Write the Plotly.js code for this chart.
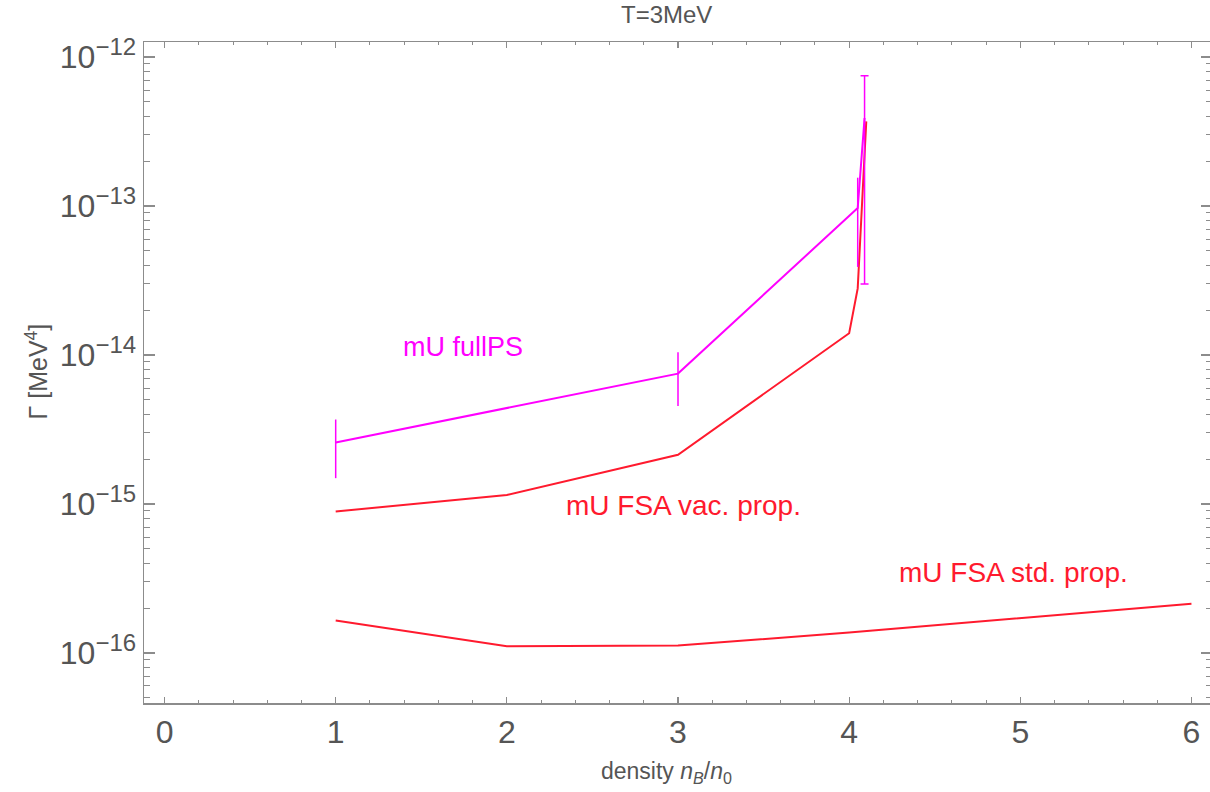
<!DOCTYPE html>
<html>
<head>
<meta charset="utf-8">
<script src="https://cdn.plot.ly/plotly-3.0.1.min.js"></script>
<style>
html,body{margin:0;padding:0;overflow:hidden;background:#fff;}
#plot{width:1212px;height:792px;}
</style>
</head>
<body>
<div id="plot"></div>
<script>
// ---- data ----
const fullPS_x   = [1, 3, 4.05, 4.09];
const fullPS_y   = [2.59e-15, 7.5e-15, 9.7e-14, 3.9e-13];
const fullPS_err = [1.1e-15, 2.95e-15, 5.8e-14, 3.6e-13];

const vac_x = [1, 2, 3, 4, 4.05, 4.1];
const vac_y = [8.9e-16, 1.15e-15, 2.14e-15, 1.4e-14, 2.8e-14, 3.7e-13];

const std_x = [1, 2, 3, 4, 6];
const std_y = [1.65e-16, 1.11e-16, 1.12e-16, 1.37e-16, 2.14e-16];

const xTickVals = [0, 1, 2, 3, 4, 5, 6];
const yTickExps = [-16, -15, -14, -13, -12];
const yTickVals = yTickExps.map(e => Math.pow(10, e));
const yTickText = yTickExps.map(e => '10<sup><span style="font-size:24px">\u2212' + Math.abs(e) + '</span></sup>');

const MAG = '#ff00ff';
const RED = '#ff1a2e';
const FRAME = '#8c8c8c';
const TXT = '#555555';
const FONT = 'Liberation Sans, Arial, Helvetica, sans-serif';

const traces = [
  {x: std_x, y: std_y, mode: 'lines', line: {color: RED, width: 2}, hoverinfo: 'none'},
  {x: vac_x, y: vac_y, mode: 'lines', line: {color: RED, width: 2}, hoverinfo: 'none'},
  {x: fullPS_x, y: fullPS_y, mode: 'lines', line: {color: MAG, width: 2}, hoverinfo: 'none'},
  {x: fullPS_x.slice(0, 3), y: fullPS_y.slice(0, 3), mode: 'markers',
   marker: {size: 0.1, color: MAG},
   error_y: {type: 'data', array: fullPS_err.slice(0, 3), color: MAG, thickness: 1.5, width: 0},
   hoverinfo: 'none'},
  {x: fullPS_x.slice(3), y: fullPS_y.slice(3), mode: 'markers',
   marker: {size: 0.1, color: MAG},
   error_y: {type: 'data', array: fullPS_err.slice(3), color: MAG, thickness: 1.5, width: 4},
   hoverinfo: 'none'}
];

const yr = [-16.336, -11.899];
const layout = {
  width: 1212, height: 792,
  margin: {l: 144, r: 0, t: 42, b: 89},
  paper_bgcolor: '#fff', plot_bgcolor: '#fff',
  showlegend: false,
  font: {family: FONT, color: TXT},
  xaxis: {
    range: [-0.12, 6.12], tickvals: xTickVals, ticktext: xTickVals.map(String),
    showgrid: false, zeroline: false,
    showline: true, linecolor: FRAME, linewidth: 1.5, mirror: 'ticks',
    ticks: 'inside', ticklen: 6, tickwidth: 1.2, tickcolor: FRAME,
    minor: {dtick: 0.2, tick0: 0, ticks: 'inside', ticklen: 3, tickwidth: 1, tickcolor: FRAME},
    tickfont: {size: 32, color: TXT, family: FONT}
  },
  yaxis: {
    type: 'log', range: yr, tickvals: yTickVals, ticktext: yTickText,
    showgrid: false, zeroline: false,
    showline: true, linecolor: FRAME, linewidth: 1.5, mirror: 'ticks',
    ticks: 'inside', ticklen: 11, tickwidth: 1.2, tickcolor: FRAME,
    minor: {dtick: 'D1', ticks: 'inside', ticklen: 6, tickwidth: 1, tickcolor: FRAME},
    tickfont: {size: 32, color: TXT, family: FONT}
  },
  annotations: [
    {xref: 'paper', yref: 'paper', x: 0.4888, y: 1.0413, text: 'T=3MeV', showarrow: false,
     font: {size: 24, color: TXT, family: FONT}, xanchor: 'center', yanchor: 'middle'},
    {xref: 'paper', yref: 'paper', x: 0.4897, y: -0.1055,
     text: 'density <i>n</i><sub><i>B</i></sub>/<i>n</i><sub>0</sub>', showarrow: false,
     font: {size: 23, color: TXT, family: FONT}, xanchor: 'center', yanchor: 'middle'},
    {xref: 'paper', yref: 'paper', x: -0.1005, y: 0.501, text: 'Γ [MeV<sup>4</sup>]', textangle: -90,
     showarrow: false, font: {size: 25, color: TXT, family: FONT}, xanchor: 'center', yanchor: 'middle'},
    {xref: 'x', yref: 'y', x: 1.743, y: Math.log10(1.14e-14), text: 'mU fullPS', showarrow: false,
     font: {size: 27, color: MAG, family: FONT}, xanchor: 'center', yanchor: 'middle'},
    {xref: 'x', yref: 'y', x: 3.03, y: Math.log10(9.75e-16), text: 'mU FSA vac. prop.', showarrow: false,
     font: {size: 28, color: RED, family: FONT}, xanchor: 'center', yanchor: 'middle'},
    {xref: 'x', yref: 'y', x: 4.96, y: Math.log10(3.46e-16), text: 'mU FSA std. prop.', showarrow: false,
     font: {size: 28, color: RED, family: FONT}, xanchor: 'center', yanchor: 'middle'}
  ]
};

Plotly.newPlot('plot', traces, layout, {displayModeBar: false, staticPlot: true});
</script>
</body>
</html>
